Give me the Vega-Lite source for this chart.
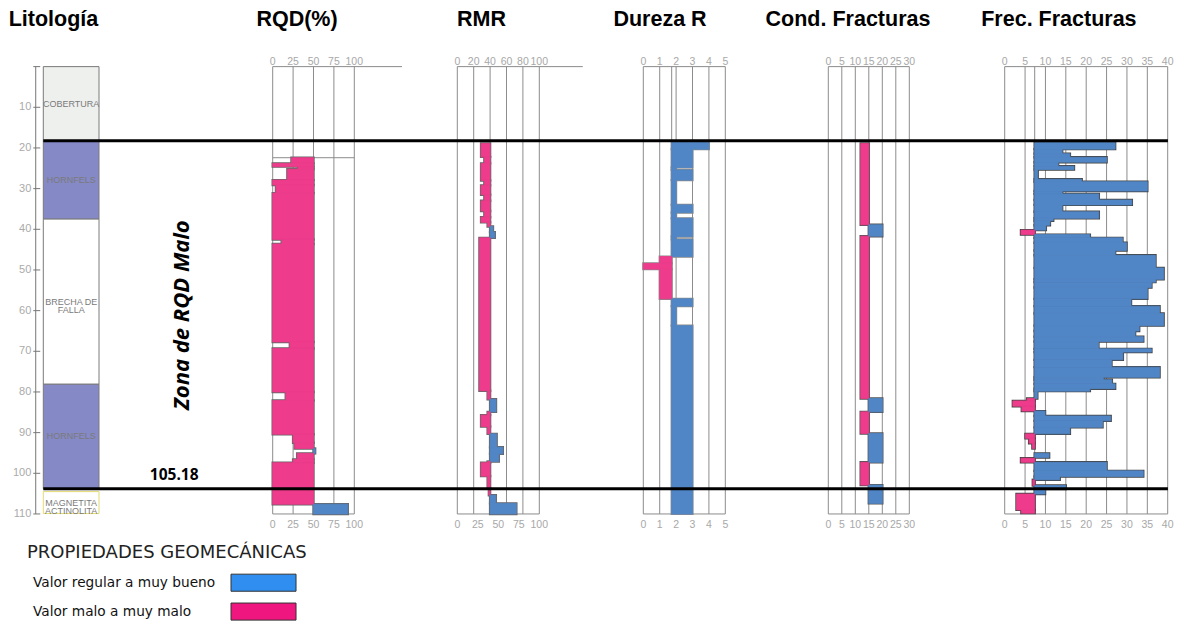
{
"$schema": "https://vega.github.io/schema/vega-lite/v6.json",
"width": 1182,
"height": 623,
"autosize": {"type": "fit", "contains": "padding"},
"padding": 0,
"background": "white",
"config": {"view": {"stroke": null}},
"datasets": {
 "litologia": [
  {"top": 0, "base": 18.2, "unidad": "Cobertura", "etiqueta": "COBERTURA"},
  {"top": 18.2, "base": 37.5, "unidad": "Hornfels", "etiqueta": "HORNFELS"},
  {"top": 37.5, "base": 78.1, "unidad": "Brecha de Falla", "etiqueta": "BRECHA  DE\nFALLA"},
  {"top": 78.1, "base": 103.8, "unidad": "Hornfels", "etiqueta": "HORNFELS"},
  {"top": 104.5, "base": 109.9, "unidad": "Magnetita Actinolita", "etiqueta": "MAGNETITA\nACTINOLITA"}
 ],
 "profundidad": [{"d": 0}, {"d": 10}, {"d": 20}, {"d": 30}, {"d": 40}, {"d": 50}, {"d": 60}, {"d": 70}, {"d": 80}, {"d": 90}, {"d": 100}, {"d": 110}],
 "rqd": [
  {"top": 22.4, "base": 23.8, "v": 23}, {"top": 23.8, "base": 24.6, "v": 0}, {"top": 24.6, "base": 25.2, "v": 31},
  {"top": 25.2, "base": 27.9, "v": 18}, {"top": 27.9, "base": 29.1, "v": 0}, {"top": 29.1, "base": 31.1, "v": 4},
  {"top": 31.1, "base": 42.5, "v": 0}, {"top": 42.5, "base": 43.6, "v": 11}, {"top": 43.6, "base": 67.7, "v": 0},
  {"top": 67.7, "base": 69.3, "v": 21}, {"top": 69.3, "base": 80.0, "v": 0}, {"top": 80.0, "base": 82.1, "v": 16},
  {"top": 82.1, "base": 90.4, "v": 0}, {"top": 90.4, "base": 92.5, "v": 25}, {"top": 92.5, "base": 93.9, "v": 27},
  {"top": 93.9, "base": 95.1, "v": 52}, {"top": 95.1, "base": 96.6, "v": 30}, {"top": 96.6, "base": 97.4, "v": 25},
  {"top": 97.4, "base": 107.6, "v": 0}, {"top": 107.6, "base": 110, "v": 92}
 ],
 "rmr": [
  {"top": 18.9, "base": 22.2, "v": 29}, {"top": 22.2, "base": 23.8, "v": 33}, {"top": 23.8, "base": 28.0, "v": 29},
  {"top": 28.0, "base": 29.2, "v": 33}, {"top": 29.2, "base": 31.5, "v": 29}, {"top": 31.5, "base": 33.0, "v": 33},
  {"top": 33.0, "base": 35.5, "v": 29}, {"top": 35.5, "base": 37.0, "v": 33}, {"top": 37.0, "base": 38.3, "v": 29},
  {"top": 38.3, "base": 39.3, "v": 37}, {"top": 39.3, "base": 40.7, "v": 43.5}, {"top": 40.7, "base": 42.1, "v": 45.7},
  {"top": 42.1, "base": 79.7, "v": 27}, {"top": 79.7, "base": 81.8, "v": 37}, {"top": 81.8, "base": 84.9, "v": 47.2},
  {"top": 84.9, "base": 85.7, "v": 37}, {"top": 85.7, "base": 88.5, "v": 29}, {"top": 88.5, "base": 90.3, "v": 37},
  {"top": 90.3, "base": 93.6, "v": 48}, {"top": 93.6, "base": 95.2, "v": 55.5}, {"top": 95.2, "base": 97.1, "v": 50.6},
  {"top": 97.1, "base": 97.4, "v": 37}, {"top": 97.4, "base": 100.7, "v": 29}, {"top": 100.7, "base": 103.7, "v": 37},
  {"top": 103.7, "base": 105.4, "v": 38.5}, {"top": 105.4, "base": 107.4, "v": 47}, {"top": 107.4, "base": 110, "v": 72}
 ],
 "dureza": [
  {"top": 18.6, "base": 20.3, "v": 4}, {"top": 20.3, "base": 24.8, "v": 3}, {"top": 24.8, "base": 25.4, "v": 2},
  {"top": 25.4, "base": 27.9, "v": 3}, {"top": 27.9, "base": 34.0, "v": 2}, {"top": 34.0, "base": 35.9, "v": 3},
  {"top": 35.9, "base": 37.3, "v": 2}, {"top": 37.3, "base": 41.8, "v": 3}, {"top": 41.8, "base": 42.5, "v": 2},
  {"top": 42.5, "base": 46.7, "v": 3}, {"top": 46.7, "base": 48.4, "v": 1}, {"top": 48.4, "base": 49.8, "v": 0},
  {"top": 49.8, "base": 57.1, "v": 1}, {"top": 57.1, "base": 58.9, "v": 3}, {"top": 58.9, "base": 63.7, "v": 2},
  {"top": 63.7, "base": 110, "v": 3}
 ],
 "cond": [
  {"top": 18.9, "base": 38.9, "v": 12}, {"top": 38.9, "base": 41.7, "v": 20}, {"top": 41.7, "base": 81.6, "v": 12},
  {"top": 81.6, "base": 84.9, "v": 20}, {"top": 84.9, "base": 90.2, "v": 12}, {"top": 90.2, "base": 97.3, "v": 20},
  {"top": 97.3, "base": 102.9, "v": 12}, {"top": 102.9, "base": 107.4, "v": 20}
 ],
 "frec": [
  {"top": 18.7, "base": 20.3, "v": 27.1}, {"top": 20.3, "base": 21.4, "v": 14.1}, {"top": 21.4, "base": 22.3, "v": 16},
  {"top": 22.3, "base": 23.5, "v": 25}, {"top": 23.5, "base": 24.5, "v": 13.1}, {"top": 24.5, "base": 25.3, "v": 17},
  {"top": 25.3, "base": 27.7, "v": 8.1}, {"top": 27.7, "base": 28.3, "v": 18.9}, {"top": 28.3, "base": 30.6, "v": 35},
  {"top": 30.6, "base": 31.3, "v": 14.1}, {"top": 31.3, "base": 32.8, "v": 23.1}, {"top": 32.8, "base": 34.0, "v": 31.2},
  {"top": 34.0, "base": 35.7, "v": 14.1}, {"top": 35.7, "base": 37.3, "v": 23.1}, {"top": 37.3, "base": 37.9, "v": 11.9},
  {"top": 37.9, "base": 39.0, "v": 11.1}, {"top": 39.0, "base": 40.2, "v": 10.1}, {"top": 40.2, "base": 41.3, "v": 4.0},
  {"top": 41.3, "base": 42.1, "v": 20.9}, {"top": 42.1, "base": 43.3, "v": 28.9}, {"top": 43.3, "base": 45.2, "v": 29.9},
  {"top": 45.2, "base": 46.4, "v": 27.1}, {"top": 46.4, "base": 49.5, "v": 37}, {"top": 49.5, "base": 52.3, "v": 39},
  {"top": 52.3, "base": 53.0, "v": 37}, {"top": 53.0, "base": 54.3, "v": 36}, {"top": 54.3, "base": 57.1, "v": 35},
  {"top": 57.1, "base": 58.9, "v": 31}, {"top": 58.9, "base": 60.7, "v": 38}, {"top": 60.7, "base": 63.7, "v": 39},
  {"top": 63.7, "base": 65.0, "v": 33}, {"top": 65.0, "base": 66.4, "v": 32}, {"top": 66.4, "base": 67.6, "v": 34},
  {"top": 67.6, "base": 69.4, "v": 23}, {"top": 69.4, "base": 70.2, "v": 36}, {"top": 70.2, "base": 72.1, "v": 29},
  {"top": 72.1, "base": 73.9, "v": 26.2}, {"top": 73.9, "base": 76.4, "v": 38}, {"top": 76.4, "base": 77.0, "v": 24.2},
  {"top": 77.0, "base": 78.0, "v": 26.3}, {"top": 78.0, "base": 79.2, "v": 27.1}, {"top": 79.2, "base": 79.8, "v": 20.9},
  {"top": 79.8, "base": 81.6, "v": 8.0}, {"top": 81.6, "base": 82.2, "v": 5.5}, {"top": 82.2, "base": 83.5, "v": 2.0},
  {"top": 83.5, "base": 84.7, "v": 4.2}, {"top": 84.7, "base": 85.9, "v": 9.9}, {"top": 85.9, "base": 87.1, "v": 26},
  {"top": 87.1, "base": 88.7, "v": 24}, {"top": 88.7, "base": 90.3, "v": 16}, {"top": 90.3, "base": 91.4, "v": 5.1},
  {"top": 91.4, "base": 92.6, "v": 6.0}, {"top": 92.6, "base": 93.9, "v": 6.8}, {"top": 95.1, "base": 96.1, "v": 10.9},
  {"top": 96.3, "base": 97.3, "v": 4.0}, {"top": 97.3, "base": 99.4, "v": 25}, {"top": 99.4, "base": 100.8, "v": 34},
  {"top": 100.8, "base": 101.6, "v": 13.5}, {"top": 101.6, "base": 103.0, "v": 6.9}, {"top": 103.0, "base": 103.9, "v": 15},
  {"top": 103.9, "base": 105.1, "v": 9.9}, {"top": 105.1, "base": 109.0, "v": 2.9}, {"top": 109.0, "base": 109.8, "v": 4.1}
 ]
},
"layer": [
 {
  "layer": [
   {
    "data": {"name": "litologia"},
    "mark": {"type": "rect", "strokeWidth": 1},
    "encoding": {
     "x": {"datum": 0, "type": "quantitative", "scale": {"domain": [-0.7774, 20.443], "nice": false, "zero": false}, "axis": null},
     "x2": {"datum": 1},
     "y": {"field": "top", "type": "quantitative", "scale": {"domain": [-16.38, 136.81], "reverse": true, "nice": false, "zero": false}, "axis": null},
     "y2": {"field": "base"},
     "fill": {"field": "unidad", "type": "nominal", "scale": {"domain": ["Cobertura", "Hornfels", "Brecha de Falla", "Magnetita Actinolita"], "range": ["#eef0ee", "#8589c6", "#ffffff", "#ffffff"]}, "legend": null},
     "stroke": {"field": "unidad", "type": "nominal", "scale": {"domain": ["Cobertura", "Hornfels", "Brecha de Falla", "Magnetita Actinolita"], "range": ["#7a7a7a", "#7a7a7a", "#7a7a7a", "#e3da73"]}, "legend": null}
    }
   },
   {
    "data": {"name": "litologia"},
    "transform": [{"calculate": "(datum.top + datum.base) / 2", "as": "medio"}],
    "mark": {"type": "text", "font": "Liberation Sans", "fontSize": 9, "color": "#7a7a7a", "lineBreak": "\n", "baseline": "middle", "lineHeight": 8.5},
    "encoding": {
     "x": {"datum": 0.5, "type": "quantitative", "scale": {"domain": [-0.7774, 20.443], "nice": false, "zero": false}, "axis": null},
     "y": {"field": "medio", "type": "quantitative", "scale": {"domain": [-16.38, 136.81], "reverse": true, "nice": false, "zero": false}, "axis": null},
     "text": {"field": "etiqueta", "type": "nominal"}
    }
   },
   {
    "data": {"values": [{}]},
    "mark": {"type": "rule", "color": "#777777", "strokeWidth": 1},
    "encoding": {
     "x": {"datum": -0.136, "type": "quantitative", "scale": {"domain": [-0.7774, 20.443], "nice": false, "zero": false}, "axis": null},
     "y": {"datum": 0, "type": "quantitative", "scale": {"domain": [-16.38, 136.81], "reverse": true, "nice": false, "zero": false}, "axis": null},
     "y2": {"datum": 110}
    }
   },
   {
    "data": {"name": "profundidad"},
    "mark": {"type": "rule", "color": "#777777", "strokeWidth": 1},
    "encoding": {
     "x": {"datum": -0.18, "type": "quantitative", "scale": {"domain": [-0.7774, 20.443], "nice": false, "zero": false}, "axis": null},
     "x2": {"datum": -0.055},
     "y": {"field": "d", "type": "quantitative", "scale": {"domain": [-16.38, 136.81], "reverse": true, "nice": false, "zero": false}, "axis": null}
    }
   },
   {
    "data": {"name": "profundidad"},
    "transform": [{"filter": "datum.d > 0"}],
    "mark": {"type": "text", "font": "Liberation Sans", "fontSize": 11, "color": "#aaaaaa", "align": "right", "baseline": "middle"},
    "encoding": {
     "x": {"datum": -0.215, "type": "quantitative", "scale": {"domain": [-0.7774, 20.443], "nice": false, "zero": false}, "axis": null},
     "y": {"field": "d", "type": "quantitative", "scale": {"domain": [-16.38, 136.81], "reverse": true, "nice": false, "zero": false}, "axis": null},
     "text": {"field": "d", "type": "nominal"}
    }
   },
   {
    "data": {"values": [{"t": "Litología"}]},
    "mark": {"type": "text", "font": "Liberation Sans", "fontWeight": "bold", "fontSize": 21.5, "color": "#000000", "baseline": "middle"},
    "encoding": {
     "x": {"datum": 0.183, "type": "quantitative", "scale": {"domain": [-0.7774, 20.443], "nice": false, "zero": false}, "axis": null},
     "y": {"datum": -11.46, "type": "quantitative", "scale": {"domain": [-16.38, 136.81], "reverse": true, "nice": false, "zero": false}, "axis": null},
     "text": {"field": "t", "type": "nominal"}
    }
   },
   {
    "data": {"values": [{"t": "Zona de RQD Malo"}]},
    "mark": {"type": "text", "font": "Open Sans", "fontWeight": "bold", "fontStyle": "italic", "fontSize": 22, "color": "#000000", "angle": 270, "baseline": "middle", "align": "center"},
    "encoding": {
     "x": {"datum": 2.49, "type": "quantitative", "scale": {"domain": [-0.7774, 20.443], "nice": false, "zero": false}, "axis": null},
     "y": {"datum": 61.1, "type": "quantitative", "scale": {"domain": [-16.38, 136.81], "reverse": true, "nice": false, "zero": false}, "axis": null},
     "text": {"field": "t", "type": "nominal"}
    }
   },
   {
    "data": {"values": [{"t": "105.18"}]},
    "mark": {"type": "text", "font": "Open Sans", "fontWeight": "bold", "fontSize": 15.5, "color": "#000000", "baseline": "middle", "align": "center"},
    "encoding": {
     "x": {"datum": 2.35, "type": "quantitative", "scale": {"domain": [-0.7774, 20.443], "nice": false, "zero": false}, "axis": null},
     "y": {"datum": 100.4, "type": "quantitative", "scale": {"domain": [-16.38, 136.81], "reverse": true, "nice": false, "zero": false}, "axis": null},
     "text": {"field": "t", "type": "nominal"}
    }
   },
   {
    "data": {"values": [{"t": "PROPIEDADES  GEOMECÁNICAS"}]},
    "mark": {"type": "text", "font": "DejaVu Sans", "fontSize": 18, "color": "#222222", "baseline": "middle", "align": "left"},
    "encoding": {
     "x": {"datum": -0.293, "type": "quantitative", "scale": {"domain": [-0.7774, 20.443], "nice": false, "zero": false}, "axis": null},
     "y": {"datum": 119.6, "type": "quantitative", "scale": {"domain": [-16.38, 136.81], "reverse": true, "nice": false, "zero": false}, "axis": null},
     "text": {"field": "t", "type": "nominal"}
    }
   },
   {
    "data": {"values": [{"t": "Valor regular a muy bueno"}]},
    "mark": {"type": "text", "font": "DejaVu Sans", "fontSize": 13.7, "color": "#111111", "baseline": "middle", "align": "left"},
    "encoding": {
     "x": {"datum": -0.185, "type": "quantitative", "scale": {"domain": [-0.7774, 20.443], "nice": false, "zero": false}, "axis": null},
     "y": {"datum": 127.0, "type": "quantitative", "scale": {"domain": [-16.38, 136.81], "reverse": true, "nice": false, "zero": false}, "axis": null},
     "text": {"field": "t", "type": "nominal"}
    }
   },
   {
    "data": {"values": [{"t": "Valor malo a muy malo"}]},
    "mark": {"type": "text", "font": "DejaVu Sans", "fontSize": 13.7, "color": "#111111", "baseline": "middle", "align": "left"},
    "encoding": {
     "x": {"datum": -0.185, "type": "quantitative", "scale": {"domain": [-0.7774, 20.443], "nice": false, "zero": false}, "axis": null},
     "y": {"datum": 134.1, "type": "quantitative", "scale": {"domain": [-16.38, 136.81], "reverse": true, "nice": false, "zero": false}, "axis": null},
     "text": {"field": "t", "type": "nominal"}
    }
   },
   {
    "data": {"values": [{}]},
    "mark": {"type": "rect", "fill": "#2f8ef0", "stroke": "#333333", "strokeWidth": 1},
    "encoding": {
     "x": {"datum": 3.37, "type": "quantitative", "scale": {"domain": [-0.7774, 20.443], "nice": false, "zero": false}, "axis": null},
     "x2": {"datum": 4.537},
     "y": {"datum": 124.8, "type": "quantitative", "scale": {"domain": [-16.38, 136.81], "reverse": true, "nice": false, "zero": false}, "axis": null},
     "y2": {"datum": 129.0}
    }
   },
   {
    "data": {"values": [{}]},
    "mark": {"type": "rect", "fill": "#f0167f", "stroke": "#333333", "strokeWidth": 1},
    "encoding": {
     "x": {"datum": 3.37, "type": "quantitative", "scale": {"domain": [-0.7774, 20.443], "nice": false, "zero": false}, "axis": null},
     "x2": {"datum": 4.537},
     "y": {"datum": 131.9, "type": "quantitative", "scale": {"domain": [-16.38, 136.81], "reverse": true, "nice": false, "zero": false}, "axis": null},
     "y2": {"datum": 136.1}
    }
   }
  ]
 },
 {
  "layer": [
   {
    "data": {"values": [{"g": 0}, {"g": 25}, {"g": 50}, {"g": 75}, {"g": 100}]},
    "mark": {"type": "rule", "color": "#8c8c8c", "strokeWidth": 1},
    "encoding": {
     "x": {"field": "g", "type": "quantitative", "scale": {"domain": [-334.19, 1114.34], "nice": false, "zero": false}, "axis": null},
     "y": {"datum": 0, "type": "quantitative", "scale": {"domain": [-16.38, 136.81], "reverse": true, "nice": false, "zero": false}, "axis": null},
     "y2": {"datum": 110}
    }
   },
   {
    "data": {"values": [{"a": 0, "b": 158.5, "p": 0}, {"a": 0, "b": 100, "p": 22.4}, {"a": 0, "b": 100, "p": 110}]},
    "mark": {"type": "rule", "color": "#8c8c8c", "strokeWidth": 1},
    "encoding": {
     "x": {"field": "a", "type": "quantitative", "scale": {"domain": [-334.19, 1114.34], "nice": false, "zero": false}, "axis": null},
     "x2": {"field": "b"},
     "y": {"field": "p", "type": "quantitative", "scale": {"domain": [-16.38, 136.81], "reverse": true, "nice": false, "zero": false}, "axis": null}
    }
   },
   {
    "data": {"name": "rqd"},
    "mark": {"type": "rect", "stroke": "#666666", "strokeWidth": 2.4},
    "encoding": {
     "x": {"field": "v", "type": "quantitative", "scale": {"domain": [-334.19, 1114.34], "nice": false, "zero": false}, "axis": null},
     "x2": {"datum": 50},
     "y": {"field": "top", "type": "quantitative", "scale": {"domain": [-16.38, 136.81], "reverse": true, "nice": false, "zero": false}, "axis": null},
     "y2": {"field": "base"},
     "fill": {"condition": {"test": "datum.v < 50", "value": "#ee3b8b"}, "value": "#5186c6"}
    }
   },
   {
    "data": {"name": "rqd"},
    "mark": {"type": "rect", "strokeWidth": 0.8},
    "encoding": {
     "x": {"field": "v", "type": "quantitative", "scale": {"domain": [-334.19, 1114.34], "nice": false, "zero": false}, "axis": null},
     "x2": {"datum": 50},
     "y": {"field": "top", "type": "quantitative", "scale": {"domain": [-16.38, 136.81], "reverse": true, "nice": false, "zero": false}, "axis": null},
     "y2": {"field": "base"},
     "fill": {"condition": {"test": "datum.v < 50", "value": "#ee3b8b"}, "value": "#5186c6"},
     "stroke": {"condition": {"test": "datum.v < 50", "value": "#ee3b8b"}, "value": "#5186c6"}
    }
   },
   {
    "data": {"values": [{"t": 0, "p": -1.15}, {"t": 25, "p": -1.15}, {"t": 50, "p": -1.15}, {"t": 75, "p": -1.15}, {"t": 100, "p": -1.15}, {"t": 0, "p": 112.7}, {"t": 25, "p": 112.7}, {"t": 50, "p": 112.7}, {"t": 75, "p": 112.7}, {"t": 100, "p": 112.7}]},
    "mark": {"type": "text", "font": "Liberation Sans", "fontSize": 10.5, "color": "#a8a8a8", "baseline": "middle"},
    "encoding": {
     "x": {"field": "t", "type": "quantitative", "scale": {"domain": [-334.19, 1114.34], "nice": false, "zero": false}, "axis": null},
     "y": {"field": "p", "type": "quantitative", "scale": {"domain": [-16.38, 136.81], "reverse": true, "nice": false, "zero": false}, "axis": null},
     "text": {"field": "t", "type": "nominal"}
    }
   },
   {
    "data": {"values": [{"t": "RQD(%)"}]},
    "mark": {"type": "text", "font": "Liberation Sans", "fontWeight": "bold", "fontSize": 21.5, "color": "#000000", "baseline": "middle"},
    "encoding": {
     "x": {"datum": 29.8, "type": "quantitative", "scale": {"domain": [-334.19, 1114.34], "nice": false, "zero": false}, "axis": null},
     "y": {"datum": -11.46, "type": "quantitative", "scale": {"domain": [-16.38, 136.81], "reverse": true, "nice": false, "zero": false}, "axis": null},
     "text": {"field": "t", "type": "nominal"}
    }
   }
  ]
 },
 {
  "layer": [
   {
    "data": {"values": [{"g": 0}, {"g": 20}, {"g": 40}, {"g": 60}, {"g": 80}, {"g": 100}]},
    "mark": {"type": "rule", "color": "#8c8c8c", "strokeWidth": 1},
    "encoding": {
     "x": {"field": "g", "type": "quantitative", "scale": {"domain": [-557.68, 883.78], "nice": false, "zero": false}, "axis": null},
     "y": {"datum": 0, "type": "quantitative", "scale": {"domain": [-16.38, 136.81], "reverse": true, "nice": false, "zero": false}, "axis": null},
     "y2": {"datum": 110}
    }
   },
   {
    "data": {"values": [{"a": 0, "b": 153, "p": 0}, {"a": 0, "b": 100, "p": 110}]},
    "mark": {"type": "rule", "color": "#8c8c8c", "strokeWidth": 1},
    "encoding": {
     "x": {"field": "a", "type": "quantitative", "scale": {"domain": [-557.68, 883.78], "nice": false, "zero": false}, "axis": null},
     "x2": {"field": "b"},
     "y": {"field": "p", "type": "quantitative", "scale": {"domain": [-16.38, 136.81], "reverse": true, "nice": false, "zero": false}, "axis": null}
    }
   },
   {
    "data": {"name": "rmr"},
    "mark": {"type": "rect", "stroke": "#666666", "strokeWidth": 2.4},
    "encoding": {
     "x": {"field": "v", "type": "quantitative", "scale": {"domain": [-557.68, 883.78], "nice": false, "zero": false}, "axis": null},
     "x2": {"datum": 40},
     "y": {"field": "top", "type": "quantitative", "scale": {"domain": [-16.38, 136.81], "reverse": true, "nice": false, "zero": false}, "axis": null},
     "y2": {"field": "base"},
     "fill": {"condition": {"test": "datum.v < 40", "value": "#ee3b8b"}, "value": "#5186c6"}
    }
   },
   {
    "data": {"name": "rmr"},
    "mark": {"type": "rect", "strokeWidth": 0.8},
    "encoding": {
     "x": {"field": "v", "type": "quantitative", "scale": {"domain": [-557.68, 883.78], "nice": false, "zero": false}, "axis": null},
     "x2": {"datum": 40},
     "y": {"field": "top", "type": "quantitative", "scale": {"domain": [-16.38, 136.81], "reverse": true, "nice": false, "zero": false}, "axis": null},
     "y2": {"field": "base"},
     "fill": {"condition": {"test": "datum.v < 40", "value": "#ee3b8b"}, "value": "#5186c6"},
     "stroke": {"condition": {"test": "datum.v < 40", "value": "#ee3b8b"}, "value": "#5186c6"}
    }
   },
   {
    "data": {"values": [{"t": 0, "p": -1.15}, {"t": 20, "p": -1.15}, {"t": 40, "p": -1.15}, {"t": 60, "p": -1.15}, {"t": 80, "p": -1.15}, {"t": 100, "p": -1.15}, {"t": 0, "p": 112.7}, {"t": 25, "p": 112.7}, {"t": 50, "p": 112.7}, {"t": 75, "p": 112.7}, {"t": 100, "p": 112.7}]},
    "mark": {"type": "text", "font": "Liberation Sans", "fontSize": 10.5, "color": "#a8a8a8", "baseline": "middle"},
    "encoding": {
     "x": {"field": "t", "type": "quantitative", "scale": {"domain": [-557.68, 883.78], "nice": false, "zero": false}, "axis": null},
     "y": {"field": "p", "type": "quantitative", "scale": {"domain": [-16.38, 136.81], "reverse": true, "nice": false, "zero": false}, "axis": null},
     "text": {"field": "t", "type": "nominal"}
    }
   },
   {
    "data": {"values": [{"t": "RMR"}]},
    "mark": {"type": "text", "font": "Liberation Sans", "fontWeight": "bold", "fontSize": 21.5, "color": "#000000", "baseline": "middle"},
    "encoding": {
     "x": {"datum": 29.5, "type": "quantitative", "scale": {"domain": [-557.68, 883.78], "nice": false, "zero": false}, "axis": null},
     "y": {"datum": -11.46, "type": "quantitative", "scale": {"domain": [-16.38, 136.81], "reverse": true, "nice": false, "zero": false}, "axis": null},
     "text": {"field": "t", "type": "nominal"}
    }
   }
  ]
 },
 {
  "layer": [
   {
    "data": {"values": [{"g": 0}, {"g": 1}, {"g": 1.73}, {"g": 2}, {"g": 3}, {"g": 4}, {"g": 5}]},
    "mark": {"type": "rule", "color": "#8c8c8c", "strokeWidth": 1},
    "encoding": {
     "x": {"field": "g", "type": "quantitative", "scale": {"domain": [-39.226, 32.847], "nice": false, "zero": false}, "axis": null},
     "y": {"datum": 0, "type": "quantitative", "scale": {"domain": [-16.38, 136.81], "reverse": true, "nice": false, "zero": false}, "axis": null},
     "y2": {"datum": 110}
    }
   },
   {
    "data": {"values": [{"a": 0, "b": 5, "p": 0}, {"a": 0, "b": 5, "p": 110}]},
    "mark": {"type": "rule", "color": "#8c8c8c", "strokeWidth": 1},
    "encoding": {
     "x": {"field": "a", "type": "quantitative", "scale": {"domain": [-39.226, 32.847], "nice": false, "zero": false}, "axis": null},
     "x2": {"field": "b"},
     "y": {"field": "p", "type": "quantitative", "scale": {"domain": [-16.38, 136.81], "reverse": true, "nice": false, "zero": false}, "axis": null}
    }
   },
   {
    "data": {"name": "dureza"},
    "mark": {"type": "rect", "stroke": "#8a8a8a", "strokeWidth": 2.2},
    "encoding": {
     "x": {"field": "v", "type": "quantitative", "scale": {"domain": [-39.226, 32.847], "nice": false, "zero": false}, "axis": null},
     "x2": {"datum": 1.73},
     "y": {"field": "top", "type": "quantitative", "scale": {"domain": [-16.38, 136.81], "reverse": true, "nice": false, "zero": false}, "axis": null},
     "y2": {"field": "base"},
     "fill": {"condition": {"test": "datum.v < 1.73", "value": "#ee3b8b"}, "value": "#5186c6"}
    }
   },
   {
    "data": {"name": "dureza"},
    "mark": {"type": "rect", "strokeWidth": 0.8},
    "encoding": {
     "x": {"field": "v", "type": "quantitative", "scale": {"domain": [-39.226, 32.847], "nice": false, "zero": false}, "axis": null},
     "x2": {"datum": 1.73},
     "y": {"field": "top", "type": "quantitative", "scale": {"domain": [-16.38, 136.81], "reverse": true, "nice": false, "zero": false}, "axis": null},
     "y2": {"field": "base"},
     "fill": {"condition": {"test": "datum.v < 1.73", "value": "#ee3b8b"}, "value": "#5186c6"},
     "stroke": {"condition": {"test": "datum.v < 1.73", "value": "#ee3b8b"}, "value": "#5186c6"}
    }
   },
   {
    "data": {"values": [{"t": 0, "p": -1.15}, {"t": 1, "p": -1.15}, {"t": 2, "p": -1.15}, {"t": 3, "p": -1.15}, {"t": 4, "p": -1.15}, {"t": 5, "p": -1.15}, {"t": 0, "p": 112.7}, {"t": 1, "p": 112.7}, {"t": 2, "p": 112.7}, {"t": 3, "p": 112.7}, {"t": 4, "p": 112.7}, {"t": 5, "p": 112.7}]},
    "mark": {"type": "text", "font": "Liberation Sans", "fontSize": 10.5, "color": "#a8a8a8", "baseline": "middle"},
    "encoding": {
     "x": {"field": "t", "type": "quantitative", "scale": {"domain": [-39.226, 32.847], "nice": false, "zero": false}, "axis": null},
     "y": {"field": "p", "type": "quantitative", "scale": {"domain": [-16.38, 136.81], "reverse": true, "nice": false, "zero": false}, "axis": null},
     "text": {"field": "t", "type": "nominal"}
    }
   },
   {
    "data": {"values": [{"t": "Dureza R"}]},
    "mark": {"type": "text", "font": "Liberation Sans", "fontWeight": "bold", "fontSize": 21.5, "color": "#000000", "baseline": "middle"},
    "encoding": {
     "x": {"datum": 1.02, "type": "quantitative", "scale": {"domain": [-39.226, 32.847], "nice": false, "zero": false}, "axis": null},
     "y": {"datum": -11.46, "type": "quantitative", "scale": {"domain": [-16.38, 136.81], "reverse": true, "nice": false, "zero": false}, "axis": null},
     "text": {"field": "t", "type": "nominal"}
    }
   }
  ]
 },
 {
  "layer": [
   {
    "data": {"values": [{"g": 0}, {"g": 5}, {"g": 10}, {"g": 15}, {"g": 20}, {"g": 25}, {"g": 30}]},
    "mark": {"type": "rule", "color": "#8c8c8c", "strokeWidth": 1},
    "encoding": {
     "x": {"field": "g", "type": "quantitative", "scale": {"domain": [-306.78, 131.0], "nice": false, "zero": false}, "axis": null},
     "y": {"datum": 0, "type": "quantitative", "scale": {"domain": [-16.38, 136.81], "reverse": true, "nice": false, "zero": false}, "axis": null},
     "y2": {"datum": 110}
    }
   },
   {
    "data": {"values": [{"a": 0, "b": 30, "p": 0}, {"a": 0, "b": 30, "p": 110}]},
    "mark": {"type": "rule", "color": "#8c8c8c", "strokeWidth": 1},
    "encoding": {
     "x": {"field": "a", "type": "quantitative", "scale": {"domain": [-306.78, 131.0], "nice": false, "zero": false}, "axis": null},
     "x2": {"field": "b"},
     "y": {"field": "p", "type": "quantitative", "scale": {"domain": [-16.38, 136.81], "reverse": true, "nice": false, "zero": false}, "axis": null}
    }
   },
   {
    "data": {"name": "cond"},
    "mark": {"type": "rect", "stroke": "#555555", "strokeWidth": 2.4},
    "encoding": {
     "x": {"field": "v", "type": "quantitative", "scale": {"domain": [-306.78, 131.0], "nice": false, "zero": false}, "axis": null},
     "x2": {"datum": 15},
     "y": {"field": "top", "type": "quantitative", "scale": {"domain": [-16.38, 136.81], "reverse": true, "nice": false, "zero": false}, "axis": null},
     "y2": {"field": "base"},
     "fill": {"condition": {"test": "datum.v < 15", "value": "#ee3b8b"}, "value": "#5186c6"}
    }
   },
   {
    "data": {"name": "cond"},
    "mark": {"type": "rect", "strokeWidth": 0.8},
    "encoding": {
     "x": {"field": "v", "type": "quantitative", "scale": {"domain": [-306.78, 131.0], "nice": false, "zero": false}, "axis": null},
     "x2": {"datum": 15},
     "y": {"field": "top", "type": "quantitative", "scale": {"domain": [-16.38, 136.81], "reverse": true, "nice": false, "zero": false}, "axis": null},
     "y2": {"field": "base"},
     "fill": {"condition": {"test": "datum.v < 15", "value": "#ee3b8b"}, "value": "#5186c6"},
     "stroke": {"condition": {"test": "datum.v < 15", "value": "#ee3b8b"}, "value": "#5186c6"}
    }
   },
   {
    "data": {"values": [{"t": 0, "p": -1.15}, {"t": 5, "p": -1.15}, {"t": 10, "p": -1.15}, {"t": 15, "p": -1.15}, {"t": 20, "p": -1.15}, {"t": 25, "p": -1.15}, {"t": 30, "p": -1.15}, {"t": 0, "p": 112.7}, {"t": 5, "p": 112.7}, {"t": 10, "p": 112.7}, {"t": 15, "p": 112.7}, {"t": 20, "p": 112.7}, {"t": 25, "p": 112.7}, {"t": 30, "p": 112.7}]},
    "mark": {"type": "text", "font": "Liberation Sans", "fontSize": 10.5, "color": "#a8a8a8", "baseline": "middle"},
    "encoding": {
     "x": {"field": "t", "type": "quantitative", "scale": {"domain": [-306.78, 131.0], "nice": false, "zero": false}, "axis": null},
     "y": {"field": "p", "type": "quantitative", "scale": {"domain": [-16.38, 136.81], "reverse": true, "nice": false, "zero": false}, "axis": null},
     "text": {"field": "t", "type": "nominal"}
    }
   },
   {
    "data": {"values": [{"t": "Cond. Fracturas"}]},
    "mark": {"type": "text", "font": "Liberation Sans", "fontWeight": "bold", "fontSize": 21.5, "color": "#000000", "baseline": "middle"},
    "encoding": {
     "x": {"datum": 7.3, "type": "quantitative", "scale": {"domain": [-306.78, 131.0], "nice": false, "zero": false}, "axis": null},
     "y": {"datum": -11.46, "type": "quantitative", "scale": {"domain": [-16.38, 136.81], "reverse": true, "nice": false, "zero": false}, "axis": null},
     "text": {"field": "t", "type": "nominal"}
    }
   }
  ]
 },
 {
  "layer": [
   {
    "data": {"values": [{"g": 0}, {"g": 5}, {"g": 7.36}, {"g": 10}, {"g": 15}, {"g": 20}, {"g": 25}, {"g": 30}, {"g": 35}, {"g": 40}]},
    "mark": {"type": "rule", "color": "#8c8c8c", "strokeWidth": 1},
    "encoding": {
     "x": {"field": "g", "type": "quantitative", "scale": {"domain": [-246.55, 43.51], "nice": false, "zero": false}, "axis": null},
     "y": {"datum": 0, "type": "quantitative", "scale": {"domain": [-16.38, 136.81], "reverse": true, "nice": false, "zero": false}, "axis": null},
     "y2": {"datum": 110}
    }
   },
   {
    "data": {"values": [{"a": 0, "b": 40, "p": 0}, {"a": 0, "b": 40, "p": 110}]},
    "mark": {"type": "rule", "color": "#8c8c8c", "strokeWidth": 1},
    "encoding": {
     "x": {"field": "a", "type": "quantitative", "scale": {"domain": [-246.55, 43.51], "nice": false, "zero": false}, "axis": null},
     "x2": {"field": "b"},
     "y": {"field": "p", "type": "quantitative", "scale": {"domain": [-16.38, 136.81], "reverse": true, "nice": false, "zero": false}, "axis": null}
    }
   },
   {
    "data": {"name": "frec"},
    "mark": {"type": "rect", "stroke": "#444444", "strokeWidth": 2.4},
    "encoding": {
     "x": {"field": "v", "type": "quantitative", "scale": {"domain": [-246.55, 43.51], "nice": false, "zero": false}, "axis": null},
     "x2": {"datum": 7.36},
     "y": {"field": "top", "type": "quantitative", "scale": {"domain": [-16.38, 136.81], "reverse": true, "nice": false, "zero": false}, "axis": null},
     "y2": {"field": "base"},
     "fill": {"condition": {"test": "datum.v < 7.36", "value": "#ee3b8b"}, "value": "#5186c6"}
    }
   },
   {
    "data": {"name": "frec"},
    "mark": {"type": "rect", "strokeWidth": 0.8},
    "encoding": {
     "x": {"field": "v", "type": "quantitative", "scale": {"domain": [-246.55, 43.51], "nice": false, "zero": false}, "axis": null},
     "x2": {"datum": 7.36},
     "y": {"field": "top", "type": "quantitative", "scale": {"domain": [-16.38, 136.81], "reverse": true, "nice": false, "zero": false}, "axis": null},
     "y2": {"field": "base"},
     "fill": {"condition": {"test": "datum.v < 7.36", "value": "#ee3b8b"}, "value": "#5186c6"},
     "stroke": {"condition": {"test": "datum.v < 7.36", "value": "#ee3b8b"}, "value": "#5186c6"}
    }
   },
   {
    "data": {"values": [{"t": 0, "p": -1.15}, {"t": 5, "p": -1.15}, {"t": 10, "p": -1.15}, {"t": 15, "p": -1.15}, {"t": 20, "p": -1.15}, {"t": 25, "p": -1.15}, {"t": 30, "p": -1.15}, {"t": 35, "p": -1.15}, {"t": 40, "p": -1.15}, {"t": 0, "p": 112.7}, {"t": 5, "p": 112.7}, {"t": 10, "p": 112.7}, {"t": 15, "p": 112.7}, {"t": 20, "p": 112.7}, {"t": 25, "p": 112.7}, {"t": 30, "p": 112.7}, {"t": 35, "p": 112.7}, {"t": 40, "p": 112.7}]},
    "mark": {"type": "text", "font": "Liberation Sans", "fontSize": 10.5, "color": "#a8a8a8", "baseline": "middle"},
    "encoding": {
     "x": {"field": "t", "type": "quantitative", "scale": {"domain": [-246.55, 43.51], "nice": false, "zero": false}, "axis": null},
     "y": {"field": "p", "type": "quantitative", "scale": {"domain": [-16.38, 136.81], "reverse": true, "nice": false, "zero": false}, "axis": null},
     "text": {"field": "t", "type": "nominal"}
    }
   },
   {
    "data": {"values": [{"t": "Frec. Fracturas"}]},
    "mark": {"type": "text", "font": "Liberation Sans", "fontWeight": "bold", "fontSize": 21.5, "color": "#000000", "baseline": "middle"},
    "encoding": {
     "x": {"datum": 13.3, "type": "quantitative", "scale": {"domain": [-246.55, 43.51], "nice": false, "zero": false}, "axis": null},
     "y": {"datum": -11.46, "type": "quantitative", "scale": {"domain": [-16.38, 136.81], "reverse": true, "nice": false, "zero": false}, "axis": null},
     "text": {"field": "t", "type": "nominal"}
    }
   }
  ]
 },
 {
  "data": {"values": [{"prof": 18.2}, {"prof": 103.8}]},
  "mark": {"type": "rule", "color": "#000000", "strokeWidth": 3},
  "encoding": {
   "x": {"datum": 0, "type": "quantitative", "scale": {"domain": [-0.7774, 20.443], "nice": false, "zero": false}, "axis": null},
   "x2": {"datum": 20.19},
   "y": {"field": "prof", "type": "quantitative", "scale": {"domain": [-16.38, 136.81], "reverse": true, "nice": false, "zero": false}, "axis": null}
  }
 }
],
"resolve": {"scale": {"x": "independent"}}
}
